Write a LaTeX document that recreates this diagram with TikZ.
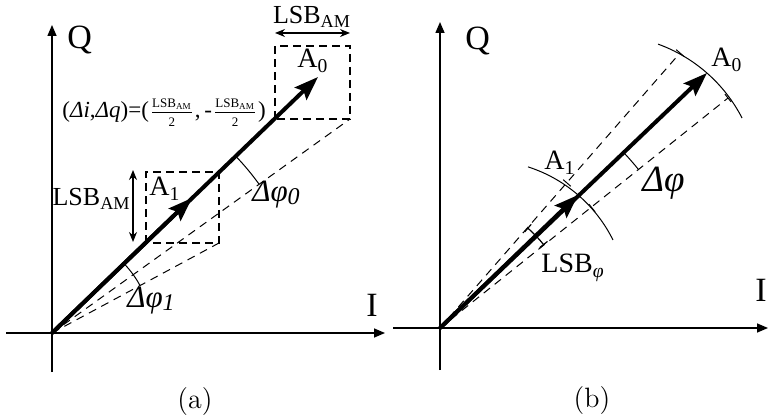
\documentclass[tikz,border=0pt]{standalone}
\usepackage{fontspec}
\newfontfamily\tnr{Liberation Serif}
\usetikzlibrary{arrows.meta}
\newcommand\fs[1]{\fontsize{#1}{#1}\selectfont}
\newcommand\lsbfr{\ensuremath{\frac{\hbox{\tnr\fs{6.5}LSB\textsubscript{AM}\vrule width 0pt depth 1.6pt}}{\hbox{\tnr\fs{6.5}\vrule width 0pt height 5.4pt 2}}}}
\begin{document}
\begin{tikzpicture}[x=0.5pt,y=0.5pt,
 axis/.style={line width=0.75pt,-{Triangle[length=5.5pt,width=4.5pt]}},
 vec/.style={line width=2pt,-{Stealth[length=12pt,width=8.5pt,inset=2pt]}},
 boxd/.style={line width=1pt,dash pattern=on 4pt off 2.5pt},
 thind/.style={line width=0.5pt,dash pattern=on 4pt off 3pt},
 dim/.style={line width=0.6pt,{Stealth[length=5pt,width=4pt]}-{Stealth[length=5pt,width=4pt]}},
 thinl/.style={line width=0.5pt},
 lbl/.style={inner sep=0pt,anchor=base west,font=\tnr},
 frm/.style={inner sep=0pt,anchor=base west,font=\tnr\fs{11.5}},
]
\useasboundingbox (0,0) rectangle (769,417);
% ---------------- (a) ----------------
\coordinate (Oa) at (52,84);
\coordinate (YaB) at (52,45);
\coordinate (YaT) at (52,392);
\coordinate (XaL) at (6,84);
\coordinate (XaR) at (385,84);
\draw[axis] (YaB) -- (YaT);
\draw[axis] (XaL) -- (XaR);
\coordinate (A0a) at (318,340);
\coordinate (A1a) at (192,219);
\coordinate (B0ll) at (275,298);
\coordinate (B0ur) at (350,371);
\coordinate (B0lr) at (350,298);
\coordinate (B1ll) at (146,174);
\coordinate (B1ur) at (219,245);
\coordinate (B1lr) at (219,174);
\draw[boxd] (B0ll) rectangle (B0ur);
\draw[boxd] (B1ll) rectangle (B1ur);
\draw[thind] (Oa) -- (B0lr);
\draw[thind] (Oa) -- (B1lr);
\draw[vec] (Oa) -- (A0a);
\draw[vec] (Oa) -- (A1a);
\coordinate (h1) at (275,384);
\coordinate (h2) at (350,384);
\draw[dim] (h1) -- (h2);
\coordinate (v1) at (133,247);
\coordinate (v2) at (133,175);
\draw[dim] (v1) -- (v2);
\draw[thinl] (Oa) ++(43.9:255) arc[start angle=43.9,end angle=35.7,radius=255];
\draw[thinl] (Oa) ++(43.9:100) arc[start angle=43.9,end angle=28.3,radius=100];
\node[lbl,font=\tnr\fs{17}] (Qa) at (67,368) {Q};
\node[lbl,font=\tnr\fs{17}] (Ia) at (366,100) {I};
\node[lbl,font=\tnr\fs{13},anchor=base] (LSBtop) at (312,393) {LSB\textsubscript{AM}};
\node[lbl,font=\tnr\fs{13},anchor=base east] (LSBleft) at (131,211) {LSB\textsubscript{AM}};
\node[lbl,font=\tnr\fs{14}] (A0la) at (297,349) {A\textsubscript{0}};
\node[lbl,font=\tnr\fs{14}] (A1la) at (149,221) {A\textsubscript{1}};
\node[frm] (f1) at (62,299) {(\textit{Δi},\textit{Δq})=(};
\node[frm] (f2) at (f1.base east) {\lsbfr};
\node[frm] (f3) at (f2.base east) {,\,-};
\node[frm] (f4) at (f3.base east) {\lsbfr};
\node[frm] (f5) at (f4.base east) {)};
\node[lbl,font=\tnr\itshape\fs{15.5}] (dphi0) at (252,215) {Δφ\raisebox{-1.5pt}{\fs{12}0}};
\node[lbl,font=\tnr\itshape\fs{15.5}] (dphi1) at (127,109) {Δφ\raisebox{-1.5pt}{\fs{12}1}};
\node[font=\fs{14}] (capa) at (195,15) {(a)};
% ---------------- (b) ----------------
\coordinate (Ob) at (440,89);
\coordinate (YbB) at (440,47);
\coordinate (YbT) at (440,395);
\coordinate (XbL) at (393,89);
\coordinate (XbR) at (768,89);
\draw[axis] (YbB) -- (YbT);
\draw[axis] (XbL) -- (XbR);
\coordinate (A0b) at (707,344);
\coordinate (A1b) at (578,222);
\coordinate (Du) at (680,364);
\coordinate (Dl) at (728,319);
\coordinate (Cu) at (567,234);
\coordinate (Cl) at (592,209);
\draw[thind] (Ob) -- (Du);
\draw[thind] (Ob) -- (Dl);
\draw[vec] (Ob) -- (A0b);
\draw[vec] (Ob) -- (A1b);
\coordinate (C0) at (606,229);
\coordinate (C1) at (484,113);
\draw[thinl] (C0) ++(70.1:153) arc[start angle=70.1,end angle=27.2,radius=153];
\draw[thinl] (C1) ++(72.2:144) arc[start angle=72.2,end angle=26.4,radius=144];
\draw[thinl] (Du) ++(138.9:5) -- ++(-41.1:10);
\draw[thinl] (Cu) ++(138.9:5) -- ++(-41.1:10);
\draw[thinl] (Dl) ++(128.6:5) -- ++(-51.4:10);
\draw[thinl] (Cl) ++(128.6:5) -- ++(-51.4:10);
\draw[thinl] (Ob) ++(43.7:254) arc[start angle=43.7,end angle=38.6,radius=254];
\draw[line width=0.6pt,{Bar[width=5pt]}-{Bar[width=5pt]}] (Ob) ++(48.9:133) arc[start angle=48.9,end angle=38.6,radius=133];
\node[lbl,font=\tnr\fs{17}] (Qb) at (465,367) {Q};
\node[lbl,font=\tnr\fs{17}] (Ib) at (755,115) {I};
\node[lbl,font=\tnr\fs{14}] (A0lb) at (711,350) {A\textsubscript{0}};
\node[lbl,font=\tnr\fs{14}] (A1lb) at (544,247) {A\textsubscript{1}};
\node[lbl,font=\tnr\fs{14}] (LSBphi) at (541,144) {LSB\textsubscript{\itshape φ}};
\node[lbl,font=\tnr\itshape\fs{18.5}] (dphi) at (642,225) {Δφ};
\node[font=\fs{14}] (capb) at (592,16) {(b)};
\end{tikzpicture}
\end{document}
